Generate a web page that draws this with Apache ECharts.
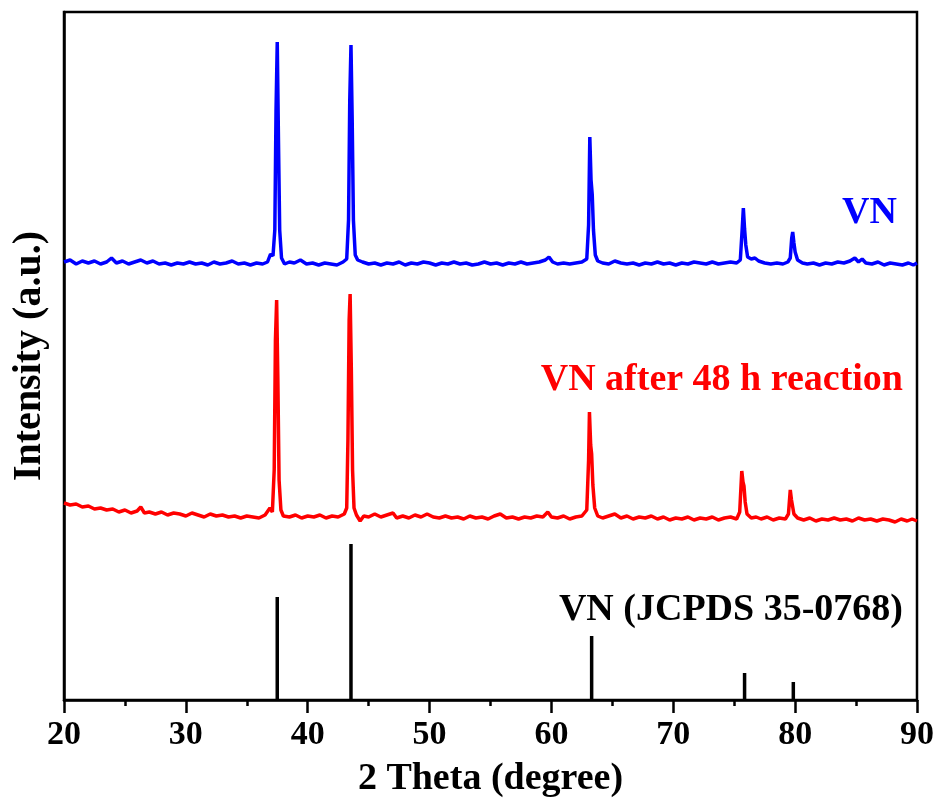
<!DOCTYPE html>
<html>
<head>
<meta charset="utf-8">
<script src="https://cdn.jsdelivr.net/npm/echarts@6/dist/echarts.min.js"></script>
<style>
html,body{margin:0;padding:0;background:#fff;}
#chart{width:937px;height:806px;}
</style>
</head>
<body>
<div id="chart"></div>
<script>
// 2Theta (degree) vs intensity (a.u.)
var vnPattern = [[20,438],[20.5,440],[21,436],[21.5,439],[22,437],[22.5,439],[23,436],[23.5,438],[23.9,442],[24.3,437],[24.8,439],[25.3,436],[25.8,438],[26.3,440],[26.8,437],[27.3,439],[27.8,436],[28.3,437],[28.8,435],[29.3,437],[29.8,436],[30.3,438],[30.8,436],[31.3,437],[31.8,435],[32.3,438],[32.8,436],[33.3,437],[33.8,439],[34.3,436],[34.8,437],[35.3,435],[35.8,437],[36.3,436],[36.7,438],[36.95,446],[37.15,444],[37.3,470],[37.4,590],[37.5,658],[37.6,560],[37.7,470],[37.85,442],[38.1,436],[38.5,438],[38.9,437],[39.4,440],[39.9,436],[40.4,437],[40.9,435],[41.4,437],[41.9,436],[42.4,435],[42.9,438],[43.2,441],[43.35,480],[43.45,600],[43.55,655],[43.65,580],[43.75,480],[43.9,445],[44.1,440],[44.5,438],[45,436],[45.5,437],[46,435],[46.5,437],[47,436],[47.5,438],[48,435],[48.5,437],[49,436],[49.5,438],[50,437],[50.5,435],[51,437],[51.5,436],[52,438],[52.5,436],[53,437],[53.5,435],[54,436],[54.5,438],[55,436],[55.5,437],[56,435],[56.5,437],[57,436],[57.5,438],[58,436],[58.5,437],[59,438],[59.5,440],[59.8,443],[60.1,438],[60.5,436],[61,437],[61.5,436],[62,437],[62.5,438],[62.9,441],[63.05,475],[63.15,563],[63.25,520],[63.35,505],[63.45,470],[63.6,445],[63.8,439],[64.2,437],[64.7,436],[65.2,439],[65.7,437],[66.2,436],[66.7,437],[67.2,435],[67.7,437],[68.2,436],[68.7,438],[69.2,436],[69.7,437],[70.2,435],[70.7,437],[71.2,436],[71.7,438],[72.2,437],[72.7,436],[73.2,438],[73.7,436],[74.2,437],[74.7,438],[75.2,437],[75.5,440],[75.65,470],[75.75,492],[75.85,471],[75.95,455],[76.1,443],[76.4,441],[76.7,442],[77,439],[77.5,437],[78,436],[78.5,437],[79,436],[79.4,438],[79.6,442],[79.72,462],[79.8,468],[79.9,457],[80.0,448],[80.2,440],[80.6,437],[81,436],[81.5,437],[82,435],[82.5,437],[83,436],[83.5,438],[84,437],[84.5,439],[84.9,442],[85.2,438],[85.5,441],[85.8,437],[86.3,436],[86.8,438],[87.3,435],[87.8,437],[88.3,436],[88.8,435],[89.3,437],[89.7,435],[90,437]];

var vnAfterPattern = [[20,197],[20.5,195],[21,196],[21.5,193],[22,194],[22.5,191],[23,192],[23.5,190],[24,191],[24.5,188],[25,190],[25.5,187],[26,189],[26.3,193],[26.6,187],[27,188],[27.5,186],[28,188],[28.5,185],[29,187],[29.5,186],[30,184],[30.5,187],[31,185],[31.5,183],[32,186],[32.5,184],[33,185],[33.5,183],[34,184],[34.5,182],[35,184],[35.5,183],[36,182],[36.5,185],[36.9,192],[37.1,188],[37.25,230],[37.35,360],[37.45,400],[37.55,320],[37.65,220],[37.8,190],[38,184],[38.5,183],[39,185],[39.5,182],[40,184],[40.5,183],[41,185],[41.5,182],[42,184],[42.5,183],[43,186],[43.2,192],[43.3,260],[43.4,380],[43.48,406],[43.58,330],[43.68,230],[43.8,192],[44,185],[44.3,179],[44.6,184],[45,183],[45.5,186],[46,183],[46.5,185],[47,187],[47.3,182],[47.8,184],[48.3,182],[48.8,185],[49.3,183],[49.8,186],[50.3,183],[50.8,182],[51.3,184],[51.8,182],[52.3,183],[52.8,181],[53.3,184],[53.8,182],[54.3,183],[54.8,181],[55.3,184],[55.8,186],[56.3,182],[56.8,183],[57.3,181],[57.8,183],[58.3,182],[58.8,184],[59.3,183],[59.7,188],[60,183],[60.5,182],[61,184],[61.5,181],[62,183],[62.5,184],[62.9,190],[63.05,240],[63.12,288],[63.22,255],[63.3,246],[63.4,215],[63.55,192],[63.8,184],[64.2,182],[64.7,184],[65.2,186],[65.7,182],[66.2,184],[66.7,181],[67.2,183],[67.7,182],[68.2,184],[68.7,181],[69.2,183],[69.7,180],[70.2,182],[70.7,181],[71.2,183],[71.7,180],[72.2,182],[72.7,181],[73.2,183],[73.7,180],[74.2,182],[74.7,183],[75.2,181],[75.45,188],[75.62,229],[75.72,218],[75.8,214],[75.9,198],[76.05,186],[76.4,182],[76.8,183],[77.2,181],[77.7,183],[78.2,180],[78.7,182],[79.2,181],[79.45,186],[79.6,210],[79.7,200],[79.78,198],[79.9,186],[80.2,182],[80.7,180],[81.2,182],[81.7,179],[82.2,181],[82.7,180],[83.2,182],[83.7,180],[84.2,181],[84.7,179],[85.2,182],[85.7,180],[86.2,181],[86.7,179],[87.2,181],[87.7,180],[88.2,178],[88.7,181],[89.2,179],[89.6,181],[90,179]];

var jcpdsLines = [[37.5,103],[43.55,156],[63.3,64],[75.85,27],[79.85,18]];

var xTicks = {min: 20, max: 90, interval: 10};
var labelVN = 'VN';
var labelAfter = 'VN after 48 h reaction';
var labelRef = 'VN (JCPDS 35-0768)';

var FONT = "'Liberation Serif', 'Times New Roman', serif";
var chart = echarts.init(document.getElementById('chart'), null, {renderer: 'canvas'});
chart.setOption({
  animation: false,
  backgroundColor: '#fff',
  grid: {left: 64, right: 20, top: 12, bottom: 106, show: true, borderColor: '#000', borderWidth: 2.5, backgroundColor: 'transparent'},
  xAxis: {
    type: 'value', min: xTicks.min, max: xTicks.max, interval: xTicks.interval,
    name: '2 Theta (degree)', nameLocation: 'middle', nameGap: 60,
    nameTextStyle: {fontFamily: FONT, fontWeight: 'bold', fontSize: 38, color: '#000'},
    axisLine: {show: true, lineStyle: {color: '#000', width: 2.5}},
    axisTick: {show: true, inside: false, length: 13, lineStyle: {color: '#000', width: 2.5}},
    minorTick: {show: true, splitNumber: 2, length: 6, lineStyle: {color: '#000', width: 2.5}},
    axisLabel: {fontFamily: FONT, fontWeight: 'bold', fontSize: 34, color: '#000', margin: 18},
    splitLine: {show: false}
  },
  yAxis: {
    type: 'value', min: 0, max: 688,
    name: 'Intensity (a.u.)', nameLocation: 'middle', nameGap: 14, nameRotate: 90,
    nameTextStyle: {fontFamily: FONT, fontWeight: 'bold', fontSize: 40, color: '#000'},
    axisLine: {show: true, lineStyle: {color: '#000', width: 2.5}},
    axisTick: {show: false}, axisLabel: {show: false}, splitLine: {show: false}
  },
  series: [
    {type: 'line', data: vnPattern, showSymbol: false, symbol: 'none', lineStyle: {color: '#0000ff', width: 3.5}},
    {type: 'line', data: vnAfterPattern, showSymbol: false, symbol: 'none', lineStyle: {color: '#ff0000', width: 3.5}},
    {type: 'bar', data: jcpdsLines, barWidth: 3.5, itemStyle: {color: '#000'}}
  ],
  graphic: [
    {type: 'text', right: 40, top: 194, style: {text: labelVN, fill: '#0000ff', font: "bold 38px " + FONT}},
    {type: 'text', right: 34, top: 361, style: {text: labelAfter, fill: '#ff0000', font: "bold 38px " + FONT}},
    {type: 'text', right: 34, top: 591, style: {text: labelRef, fill: '#000', font: "bold 38px " + FONT}}
  ]
});
</script>
</body>
</html>
